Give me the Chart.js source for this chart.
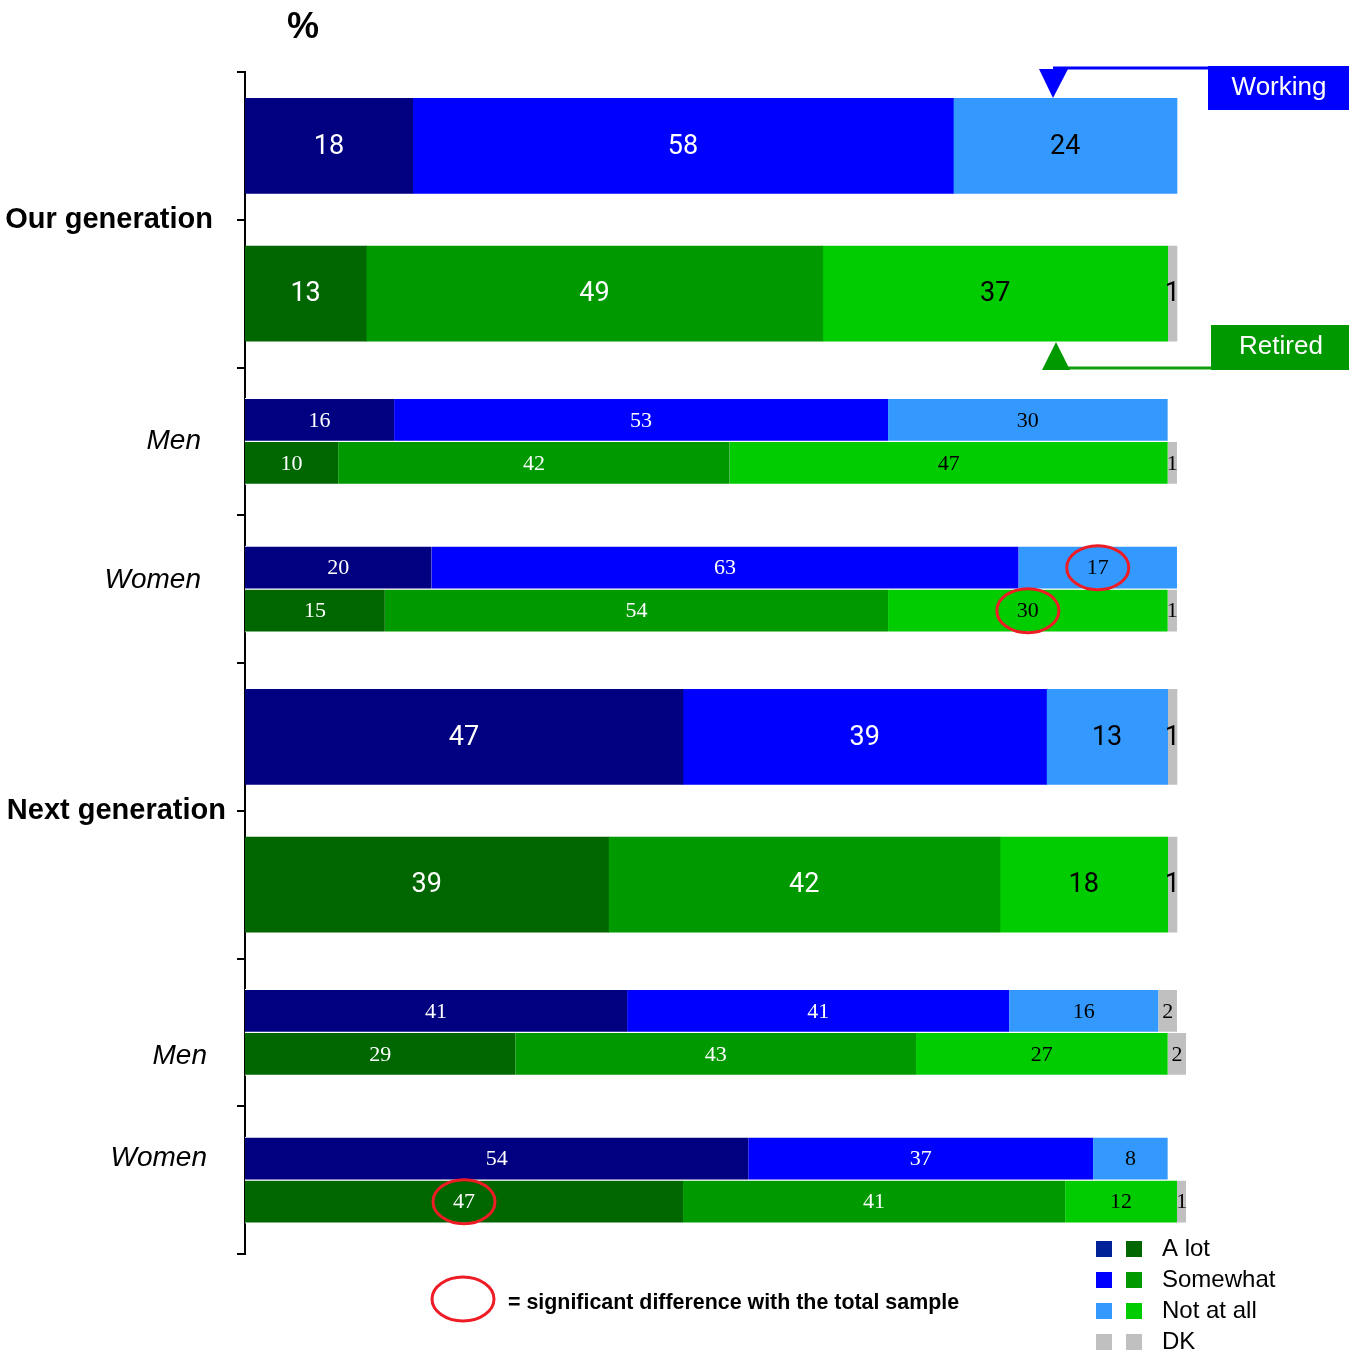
<!DOCTYPE html>
<html lang="en">
<head>
<meta charset="utf-8">
<title>Our generation / Next generation</title>
<script src="https://cdn.jsdelivr.net/npm/chart.js"></script>
<style>
  body{margin:0;background:#fff}
  #wrap{width:1349px;height:1355px;position:relative}
</style>
</head>
<body>
<div id="wrap"><canvas id="chart"></canvas></div>
<script>
const series = ['A lot', 'Somewhat', 'Not at all', 'DK'];

// one array per bar, in series order
const ourWorking        = [18, 58, 24, null];
const ourRetired        = [13, 49, 37, 1];
const ourMenWorking     = [16, 53, 30, null];
const ourMenRetired     = [10, 42, 47, 1];
const ourWomenWorking   = [20, 63, 17, null];
const ourWomenRetired   = [15, 54, 30, 1];
const nextWorking       = [47, 39, 13, 1];
const nextRetired       = [39, 42, 18, 1];
const nextMenWorking    = [41, 41, 16, 2];
const nextMenRetired    = [29, 43, 27, 2];
const nextWomenWorking  = [54, 37, 8, null];
const nextWomenRetired  = [47, 41, 12, 1];

// 8 rows on the axis; big rows hold one bar, small rows a working + retired pair
const rows = ['Our generation – working', 'Our generation – retired', 'Our generation – men', 'Our generation – women',
              'Next generation – working', 'Next generation – retired', 'Next generation – men', 'Next generation – women'];
const bigBars     = [ourWorking, ourRetired, null, null, nextWorking, nextRetired, null, null];
const pairWorking = [null, null, ourMenWorking, ourWomenWorking, null, null, nextMenWorking, nextWomenWorking];
const pairRetired = [null, null, ourMenRetired, ourWomenRetired, null, null, nextMenRetired, nextWomenRetired];
const bigIsWorking = [true, false, null, null, true, false, null, null];

const sideLabels = ['Our generation', 'Men', 'Women', 'Next generation', 'Men', 'Women'];

// bars ringed in red (significant difference)
const significant = [
  {layer: 'w', s: 2, row: 3},
  {layer: 'r', s: 2, row: 3},
  {layer: 'r', s: 0, row: 7}
];

const blues  = ['#000080', '#0000ff', '#3399ff', '#c0c0c0'];
const greens = ['#006600', '#009900', '#00cc00', '#c0c0c0'];

const datasets = [];
series.forEach((name, s) => {
  datasets.push({
    label: name, layer: 'big', s, stack: 'big',
    data: bigBars.map(b => b ? b[s] : null),
    backgroundColor: bigIsWorking.map(w => w === false ? greens[s] : blues[s]),
    barThickness: 95, borderWidth: 0
  });
});
[['w', pairWorking, blues], ['r', pairRetired, greens]].forEach(([layer, bars, pal]) => {
  series.forEach((name, s) => {
    datasets.push({
      label: name, layer, s, stack: layer,
      data: bars.map(b => b ? b[s] : null),
      backgroundColor: pal[s],
      barThickness: 43,
      borderColor: '#fff', borderWidth: {top: 1, bottom: 1, left: 0, right: 0}, borderSkipped: false
    });
  });
});

const overlay = {
  id: 'overlay',
  afterDatasetsDraw(chart) {
    const ctx = chart.ctx;
    const y = chart.scales.y;
    ctx.save();
    ctx.textAlign = 'center';
    ctx.textBaseline = 'middle';

    // numbers in the bars
    chart.data.datasets.forEach((ds, di) => {
      const meta = chart.getDatasetMeta(di);
      meta.data.forEach((bar, i) => {
        const v = ds.data[i];
        if (v == null) return;
        ctx.font = ds.layer === 'big' ? '27px Roboto' : '22px "Liberation Serif"';
        ctx.fillStyle = ds.s < 2 ? '#fff' : '#000';
        ctx.fillText(String(v), (bar.x + bar.base) / 2, bar.y + 1);
      });
    });

    // red rings
    ctx.strokeStyle = '#ee1c25';
    ctx.lineWidth = 3;
    significant.forEach(m => {
      const di = chart.data.datasets.findIndex(d => d.layer === m.layer && d.s === m.s);
      const bar = chart.getDatasetMeta(di).data[m.row];
      ctx.beginPath();
      ctx.ellipse((bar.x + bar.base) / 2, bar.y, 31, 22, 0, 0, Math.PI * 2);
      ctx.stroke();
    });

    // row labels on the left
    const at = [0.5, 2, 2.94, 4.5, 6.16, 6.85];
    const right = [213, 201, 201, 226, 207, 207];
    ctx.textAlign = 'right';
    ctx.fillStyle = '#000';
    sideLabels.forEach((t, i) => {
      const bold = t.includes('generation');
      ctx.font = bold ? 'bold 29px "Liberation Sans"' : 'italic 28px "Liberation Sans"';
      ctx.fillText(t, right[i], y.getPixelForValue(at[i]));
    });

    // % title
    ctx.textAlign = 'center';
    ctx.font = 'bold 36px "Liberation Sans"';
    ctx.fillText('%', 303, 28);

    // Working / Retired callouts
    ctx.fillStyle = '#0000ff';
    ctx.strokeStyle = '#0000ff';
    ctx.lineWidth = 3;
    ctx.beginPath(); ctx.moveTo(1053, 68); ctx.lineTo(1210, 68); ctx.stroke();
    ctx.beginPath(); ctx.moveTo(1039, 69); ctx.lineTo(1068, 69); ctx.lineTo(1053, 98); ctx.closePath(); ctx.fill();
    ctx.fillRect(1208, 66, 141, 44);
    ctx.fillStyle = '#009900';
    ctx.strokeStyle = '#109e10';
    ctx.beginPath(); ctx.moveTo(1056, 368); ctx.lineTo(1213, 368); ctx.stroke();
    ctx.beginPath(); ctx.moveTo(1042, 370); ctx.lineTo(1070, 370); ctx.lineTo(1056, 342); ctx.closePath(); ctx.fill();
    ctx.fillRect(1211, 325, 138, 45);
    ctx.fillStyle = '#fff';
    ctx.font = '26px "Liberation Sans"';
    ctx.fillText('Working', 1279, 88);
    ctx.fillText('Retired', 1281, 347);

    // footnote
    ctx.strokeStyle = '#ee1c25';
    ctx.beginPath(); ctx.ellipse(463, 1299, 31, 22, 0, 0, Math.PI * 2); ctx.stroke();
    ctx.fillStyle = '#000';
    ctx.textAlign = 'left';
    ctx.font = 'bold 21.4px "Liberation Sans"';
    ctx.fillText('= significant difference with the total sample', 508, 1303);

    // legend
    const legBlue = ['#002299', '#0000ff', '#3399ff', '#c0c0c0'];
    ctx.font = '24px "Liberation Sans"';
    series.forEach((t, i) => {
      const cy = 1249 + i * 31;
      ctx.fillStyle = legBlue[i];
      ctx.fillRect(1096, cy - 8, 16, 16);
      ctx.fillStyle = greens[i];
      ctx.fillRect(1126, cy - 8, 16, 16);
      ctx.fillStyle = '#000';
      ctx.fillText(t, 1162, cy);
    });
    ctx.restore();
  }
};

new Chart(document.getElementById('chart'), {
  type: 'bar',
  data: {labels: rows, datasets},
  options: {
    indexAxis: 'y',
    responsive: true,
    maintainAspectRatio: false,
    animation: false,
    skipNull: true,
    layout: {padding: {top: 72, bottom: 101, right: 162.7, left: 0}},
    plugins: {legend: {display: false}, tooltip: {enabled: false}},
    scales: {
      x: {display: false, stacked: true, min: 0, max: 101},
      y: {
        ticks: {display: false},
        grid: {display: true, drawOnChartArea: false, drawTicks: true, tickLength: 8, color: '#000', lineWidth: 2, offset: true},
        border: {display: true, color: '#000', width: 2},
        afterFit(scale) { scale.width = 245; }
      }
    }
  },
  plugins: [overlay]
});
</script>
</body>
</html>
